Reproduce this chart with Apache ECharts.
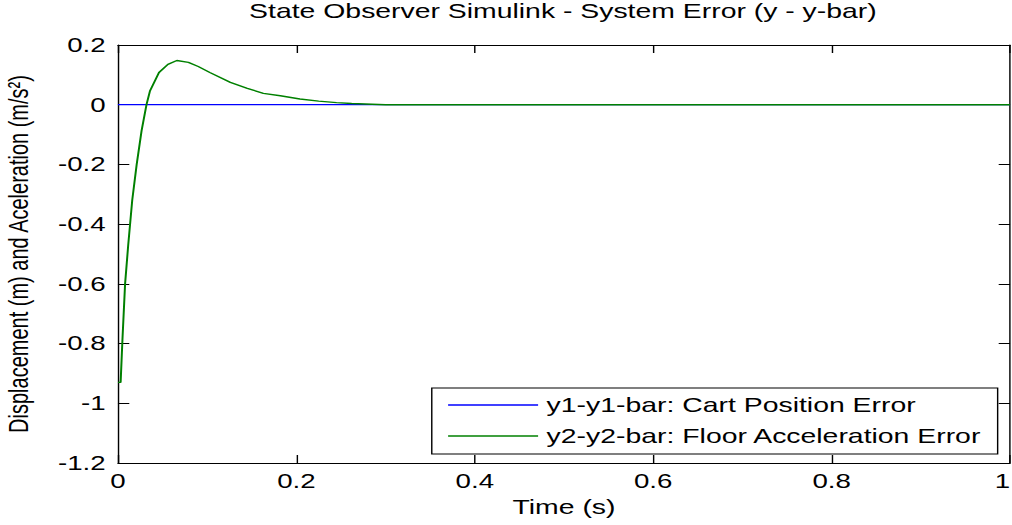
<!DOCTYPE html>
<html><head><meta charset="utf-8">
<script src="https://cdn.jsdelivr.net/npm/echarts@6/dist/echarts.min.js"></script>
<style>
html,body{margin:0;padding:0;background:#fff;overflow:hidden}
/* the reference figure is a horizontally stretched MATLAB plot: draw at 713px and stretch to 1012px */
#c{width:713px;height:525px;transform:scaleX(1.4194);transform-origin:0 0}
</style>
</head><body><div id="c"></div>
<script>
const titleText = 'State Observer Simulink - System Error (y - y-bar)';
const xName = 'Time (s)';
const yName = 'Displacement (m) and Aceleration (m/s\u00B2)';
const seriesNames = ['y1-y1-bar: Cart Position Error', 'y2-y2-bar: Floor Acceleration Error'];
const timeY1 = [0, 1];
const valY1 = [0, 0];
const timeY2 = [0, 0.003, 0.005, 0.008, 0.0115, 0.016, 0.021, 0.0265, 0.032, 0.036, 0.046, 0.056, 0.066, 0.079, 0.09, 0.103, 0.126, 0.145, 0.163, 0.182, 0.204, 0.225, 0.245, 0.262, 0.3, 1];
const valY2 = [-0.93, -0.93, -0.79, -0.60, -0.47, -0.32, -0.2, -0.087, 0, 0.047, 0.108, 0.135, 0.148, 0.142, 0.128, 0.108, 0.075, 0.055, 0.038, 0.03, 0.019, 0.012, 0.007, 0.004, 0, 0];
const xTicks = {min: 0, max: 1, interval: 0.2};
const yTicks = {min: -1.2, max: 0.2, interval: 0.2};

const FONT = '"Liberation Sans", Arial, sans-serif';
const fmt = v => String(Math.round(v * 10) / 10);
const chart = echarts.init(document.getElementById('c'), null, {renderer: 'svg', width: 713, height: 525});
const axisCommon = {
  axisLine: {show: true, onZero: false, lineStyle: {color: '#000', width: 1}},
  axisTick: {show: true, inside: true, length: 8, lineStyle: {color: '#000'}},
  splitLine: {show: false}
};
chart.setOption({
  animation: false,
  backgroundColor: '#fff',
  title: {text: titleText, left: 396.6, top: 1, padding: 0, textAlign: 'center',
    textStyle: {fontFamily: FONT, fontSize: 20, fontWeight: 'normal', color: '#000'}},
  grid: {left: 83.1, right: 1.4, top: 45, bottom: 62, containLabel: false, outerBoundsMode: 'none'},
  legend: {
    orient: 'vertical', left: 304.2, top: 388,
    itemWidth: 63.4, itemHeight: 1.6, itemGap: 11,
    backgroundColor: '#fff', borderColor: '#000', borderWidth: 1,
    padding: [7, 11, 8, 11.5], icon: 'rect',
    textStyle: {fontFamily: FONT, fontSize: 20, color: '#000', padding: [0, 0, 0, 1]},
    data: seriesNames
  },
  xAxis: [
    Object.assign({type: 'value', min: xTicks.min, max: xTicks.max, interval: xTicks.interval,
      name: xName, nameLocation: 'middle', nameGap: 34,
      nameTextStyle: {fontFamily: FONT, fontSize: 20, color: '#000'},
      axisLabel: {fontFamily: FONT, fontSize: 19.5, color: '#000', margin: 8, formatter: fmt,
        alignMaxLabel: 'right'}}, axisCommon),
    Object.assign({type: 'value', position: 'top', min: xTicks.min, max: xTicks.max, interval: xTicks.interval,
      axisLabel: {show: false}}, axisCommon)
  ],
  yAxis: [
    Object.assign({type: 'value', min: yTicks.min, max: yTicks.max, interval: yTicks.interval,
      name: yName, nameLocation: 'middle', nameGap: 60, nameRotate: 90,
      nameTextStyle: {fontFamily: FONT, fontSize: 20, color: '#000'},
      axisLabel: {fontFamily: FONT, fontSize: 19.5, color: '#000', margin: 8.7, formatter: fmt}}, axisCommon),
    Object.assign({type: 'value', position: 'right', min: yTicks.min, max: yTicks.max, interval: yTicks.interval,
      axisLabel: {show: false}}, axisCommon)
  ],
  series: [
    {name: seriesNames[0], type: 'line', showSymbol: false, symbol: 'none',
      color: '#0000ff', lineStyle: {color: '#0000ff', width: 1.3},
      data: timeY1.map((t, i) => [t, valY1[i]])},
    {name: seriesNames[1], type: 'line', showSymbol: false, symbol: 'none',
      color: '#008000', lineStyle: {color: '#008000', width: 1.4},
      data: timeY2.map((t, i) => [t, valY2[i]])}
  ]
});
</script></body></html>
